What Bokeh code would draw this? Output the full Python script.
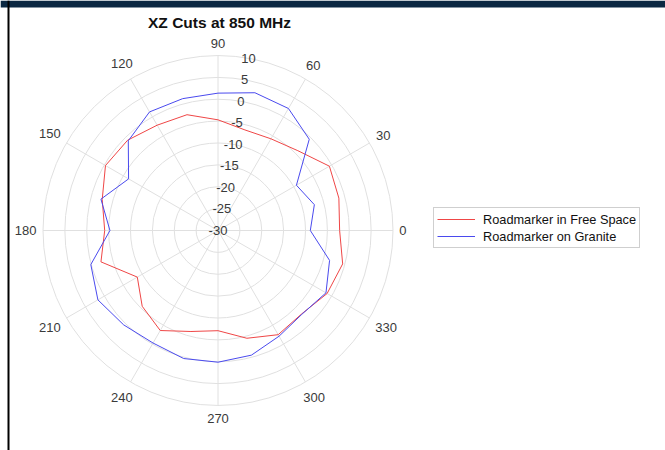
import numpy as np
from bokeh.plotting import figure
from bokeh.models import Range1d, Label, Legend, LegendItem, Span, BoxAnnotation
from bokeh.embed import file_html
from bokeh.resources import INLINE
from bokeh.core.properties import value

# ---------------- data ----------------
title_text = "XZ Cuts at 850 MHz"
series_names = ["Roadmarker in Free Space", "Roadmarker on Granite"]
angles_deg = [0, 15, 30, 45, 60, 75, 90, 105, 120, 135, 150, 165,
              180, 195, 210, 225, 240, 255, 270, 285, 300, 315, 330, 345]
free_space_db = [-2.2, -1.4, -0.6, -4.2, -5.8, -6.2, -4.7, -2.6, -2.2, -0.8, -0.3, -2.6,
                 -4.1, -2.3, -8.7, -5.5, -3.6, -6.1, -7.1, -4.5, -2.5, -3.0, -1.2, -0.5]
granite_db = [-8.9, -7.2, -9.3, -0.5, 2.2, 2.6, 1.4, 1.2, 1.3, -1.0, -6.4, -2.3,
              -5.3, 0.1, 1.7, 0.5, -0.3, 0.3, 0.1, -0.5, -2.1, -2.9, -1.5, -3.6]
theta_ticks = [0, 30, 60, 90, 120, 150, 180, 210, 240, 270, 300, 330]
r_ticks = [-30, -25, -20, -15, -10, -5, 0, 5, 10]
r_min, r_max = -30, 10

# ---------------- geometry ----------------
R_PX = 175.0
scale = R_PX / (r_max - r_min)
FONT = "Liberation Sans"
GRID = "#e0e0e0"
LABEL_C = "#3a3a3a"

p = figure(width=665, height=450, output_backend="svg", toolbar_location=None,
           x_range=Range1d(-217.5, 447.5), y_range=Range1d(-220, 230),
           x_axis_location=None, y_axis_location=None, min_border=0,
           outline_line_color=None, background_fill_color="white",
           border_fill_color="white")
p.grid.visible = False

# rings
ring_r = [(v - r_min) * scale for v in r_ticks[1:]]
p.circle(x=[0] * len(ring_r), y=[0] * len(ring_r), radius=ring_r,
         fill_color=None, line_color=GRID, line_width=1)

# spokes
th = np.deg2rad(theta_ticks)
p.segment(x0=[0] * len(th), y0=[0] * len(th), x1=R_PX * np.cos(th), y1=R_PX * np.sin(th),
          line_color=GRID, line_width=1)


def polar_xy(ang, vals):
    a = np.deg2rad(np.r_[ang, ang[0]])
    v = np.clip(np.r_[vals, vals[0]], r_min, r_max)
    rr = (v - r_min) * scale
    return rr * np.cos(a), rr * np.sin(a)


x1, y1 = polar_xy(angles_deg, free_space_db)
x2, y2 = polar_xy(angles_deg, granite_db)
l1 = p.line(x1, y1, line_color="#ef4646", line_width=1)
l2 = p.line(x2, y2, line_color="#4a4aee", line_width=1)

# r tick labels along 80 deg
ra = np.deg2rad(80)
rr = [(v - r_min) * scale for v in r_ticks]
p.text(x=[r * np.cos(ra) for r in rr], y=[r * np.sin(ra) for r in rr],
       text=[str(v) for v in r_ticks], text_align="center", text_baseline="middle",
       text_font=value(FONT), text_font_size="13px", text_color=LABEL_C)

# theta tick labels
tx, ty = [], []
for t in theta_ticks:
    a = np.deg2rad(t)
    w = 7.6 * len(str(t)) / 2.0
    h = 6.5
    ext = abs(np.cos(a)) * w + abs(np.sin(a)) * h
    d = R_PX + 6 + ext
    tx.append(d * np.cos(a))
    ty.append(d * np.sin(a))
p.text(x=tx, y=ty, text=[str(t) for t in theta_ticks], text_align="center",
       text_baseline="middle", text_font=value(FONT), text_font_size="13px",
       text_color=LABEL_C)

# title
p.add_layout(Label(x=1.5, y=208, text=title_text, text_align="center",
                   text_baseline="middle", text_font=FONT, text_font_size="15.5px",
                   text_font_style="bold", text_color="#111111"))

# legend
legend = Legend(items=[LegendItem(label=series_names[0], renderers=[l1]),
                       LegendItem(label=series_names[1], renderers=[l2])],
                location=(433, 202), orientation="vertical",
                label_text_font=FONT, label_text_font_size="12.75px",
                label_text_color="#111111",
                glyph_width=38, glyph_height=16, label_height=16,
                label_standoff=8, spacing=1, padding=3, margin=0,
                border_line_color="#a0a0a0", border_line_width=1,
                background_fill_color="white", background_fill_alpha=1.0)
p.add_layout(legend)

# screenshot frame decorations: dark header band and left border line
p.add_layout(BoxAnnotation(bottom=223, top=230, fill_color="#0b2842", fill_alpha=1.0,
                           line_color=None))
p.add_layout(Span(location=-209.5, dimension="height", line_color="black", line_width=2))

open("out.html", "w").write(file_html(p, INLINE))
